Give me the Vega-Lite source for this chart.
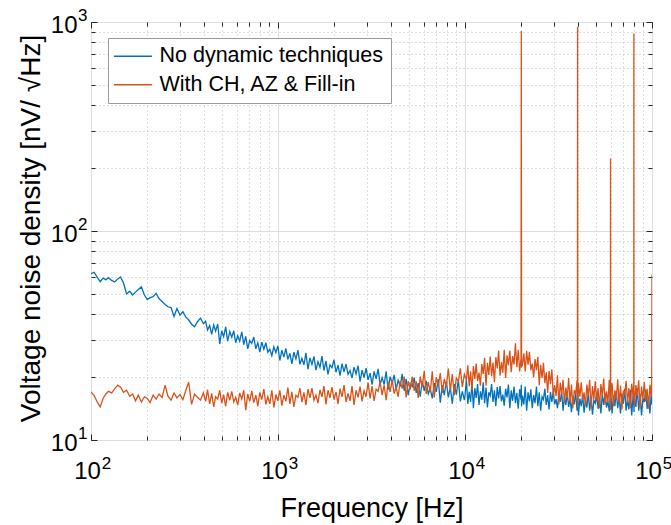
{
"$schema": "https://vega.github.io/schema/vega-lite/v6.json",
"width": 561, "height": 418,
"autosize": "none",
"padding": {"left": 91, "top": 22, "right": 19, "bottom": 85},
"background": "white",
"config": {"view": {"stroke": "#262626", "strokeWidth": 1}, "font": "Liberation Sans",
  "axis": {"labelFont": "Liberation Sans", "titleFont": "Liberation Sans", "titleFontWeight": "normal", "labelColor": "#000", "titleColor": "#000"}},
"data": {"values": [
{"f":100,"a":62.5,"b":17},{"f":104,"a":63.5,"b":16.3},{"f":108,"a":60,"b":15.2},{"f":112,"a":57.2,"b":14.4},{"f":116,"a":59.5,"b":15.8},{"f":120,"a":58.5,"b":16.6},{"f":124,"a":59.8,"b":17.1},{"f":129,"a":58,"b":16.8},{"f":134,"a":57,"b":17.6},{"f":139,"a":59,"b":18.3},{"f":144,"a":60.3,"b":17.9},{"f":149,"a":56.5,"b":16.9},{"f":155,"a":50,"b":17.3},{"f":161,"a":51.5,"b":16.2},{"f":167,"a":49.4,"b":16.6},{"f":173,"a":51,"b":15.4},{"f":179,"a":52.5,"b":16.4},{"f":186,"a":54,"b":15.2},{"f":193,"a":49.4,"b":16.1},{"f":200,"a":47,"b":15.8},{"f":207,"a":48,"b":15.1},{"f":215,"a":48.5,"b":16.4},{"f":223,"a":50.3,"b":15.7},{"f":231,"a":47.5,"b":16.6},{"f":240,"a":46,"b":16},{"f":249,"a":44.5,"b":18.3},{"f":258,"a":43.4,"b":16.2},{"f":268,"a":43,"b":15.5},{"f":278,"a":39,"b":16.8},{"f":288,"a":42.6,"b":15.9},{"f":299,"a":39.6,"b":16.5},{"f":310,"a":41.1,"b":15.6},{"f":321,"a":38.8,"b":17.2},{"f":333,"a":37.5,"b":18.9},{"f":345,"a":35.8,"b":14.8},{"f":358,"a":34.8,"b":16.6},{"f":371,"a":36.8,"b":16},{"f":385,"a":38.3,"b":15.5},{"f":399,"a":36,"b":16.8},
{"f":410,"a":37.0,"b":15.3},{"f":420,"a":33.6,"b":17.4},{"f":431,"a":35.3,"b":14.9},{"f":442,"a":32.0,"b":16.7},{"f":453,"a":35.5,"b":14.4},{"f":464,"a":33.2,"b":16.1},{"f":476,"a":35.9,"b":15.7},{"f":488,"a":28.8,"b":17.3},{"f":500,"a":33.3,"b":15.0},{"f":512,"a":31.2,"b":16.5},{"f":525,"a":34.8,"b":14.5},{"f":538,"a":29.7,"b":16.9},{"f":552,"a":33.0,"b":15.5},{"f":566,"a":31.0,"b":17.1},{"f":580,"a":33.3,"b":15.2},{"f":594,"a":29.2,"b":16.0},{"f":609,"a":31.5,"b":14.7},{"f":624,"a":29.7,"b":16.8},{"f":640,"a":32.9,"b":15.7},{"f":656,"a":28.6,"b":17.3},{"f":672,"a":31.3,"b":13.9},{"f":689,"a":27.3,"b":16.6},{"f":706,"a":29.9,"b":15.3},{"f":724,"a":29.0,"b":17.2},{"f":742,"a":31.1,"b":15.1},{"f":761,"a":27.3,"b":16.4},{"f":780,"a":29.2,"b":14.5},{"f":799,"a":26.3,"b":16.9},{"f":819,"a":29.4,"b":15.6},{"f":840,"a":27.2,"b":17.5},{"f":861,"a":29.2,"b":14.8},{"f":882,"a":26.3,"b":16.1},{"f":904,"a":27.2,"b":14.9},{"f":927,"a":25.3,"b":17.3},{"f":950,"a":27.9,"b":14.3},{"f":974,"a":26.2,"b":16.5},{"f":998,"a":28.2,"b":15.4},
{"f":1023,"a":24.0,"b":17.3},{"f":1049,"a":26.9,"b":14.6},{"f":1075,"a":24.9,"b":16.4},{"f":1102,"a":27.4,"b":15.3},{"f":1129,"a":24.3,"b":17.8},{"f":1158,"a":26.0,"b":14.9},{"f":1186,"a":23.1,"b":17.0},{"f":1216,"a":26.3,"b":14.4},{"f":1247,"a":24.4,"b":16.4},{"f":1278,"a":26.9,"b":16.0},{"f":1310,"a":23.0,"b":17.7},{"f":1342,"a":24.6,"b":15.2},{"f":1376,"a":22.9,"b":16.9},{"f":1410,"a":26.1,"b":14.7},{"f":1446,"a":21.8,"b":17.5},{"f":1482,"a":24.7,"b":15.9},{"f":1519,"a":23.0,"b":17.7},{"f":1557,"a":25.1,"b":15.5},{"f":1596,"a":21.6,"b":16.4},{"f":1636,"a":23.7,"b":15.0},{"f":1677,"a":22.3,"b":17.4},{"f":1718,"a":25.2,"b":16.1},{"f":1761,"a":21.5,"b":18.1},{"f":1805,"a":23.9,"b":14.8},{"f":1851,"a":20.6,"b":17.3},{"f":1897,"a":22.9,"b":15.9},{"f":1944,"a":22.2,"b":17.9},{"f":1993,"a":24.2,"b":15.6},
{"f":2043,"a":21.1,"b":17.0},{"f":2094,"a":22.8,"b":14.9},{"f":2146,"a":20.3,"b":17.6},{"f":2200,"a":23.2,"b":16.1},{"f":2255,"a":21.2,"b":18.3},{"f":2311,"a":23.1,"b":15.2},{"f":2369,"a":20.6,"b":16.7},{"f":2428,"a":21.5,"b":15.4},{"f":2489,"a":19.8,"b":18.1},{"f":2551,"a":22.3,"b":14.7},{"f":2615,"a":20.7,"b":17.3},{"f":2680,"a":22.7,"b":16.0},{"f":2747,"a":19.0,"b":18.0},{"f":2816,"a":21.6,"b":15.3},{"f":2886,"a":19.9,"b":17.2},{"f":2958,"a":22.1,"b":16.1},{"f":3032,"a":19.4,"b":18.8},{"f":3108,"a":20.9,"b":15.8},{"f":3186,"a":18.4,"b":18.1},{"f":3265,"a":21.3,"b":15.4},{"f":3347,"a":19.6,"b":17.5},{"f":3431,"a":21.9,"b":17.1},{"f":3516,"a":18.4,"b":19.0},{"f":3604,"a":19.9,"b":16.4},{"f":3694,"a":18.4,"b":18.3},{"f":3787,"a":21.3,"b":15.5},{"f":3881,"a":17.4,"b":19.0},{"f":3978,"a":20.1,"b":17.0},{"f":4078,"a":18.6,"b":19.4},{"f":4180,"a":20.5,"b":16.7},{"f":4284,"a":17.4,"b":17.9},{"f":4391,"a":19.3,"b":16.1},{"f":4501,"a":18.0,"b":19.2},{"f":4614,"a":20.7,"b":17.6},{"f":4729,"a":17.2,"b":20.1},{"f":4847,"a":19.6,"b":16.0},{"f":4968,"a":16.4,"b":19.1},{"f":5093,"a":18.6,"b":17.4},{"f":5220,"a":18.0,"b":20.1},{"f":5350,"a":19.9,"b":17.2},{"f":5484,"a":16.8,"b":19.1},{"f":5621,"a":18.7,"b":15.9},{"f":5762,"a":16.1,"b":20.1},{"f":5906,"a":19.2,"b":17.9},{"f":6054,"a":17.2,"b":21.4},{"f":6205,"a":19.2,"b":16.6},{"f":6360,"a":16.6,"b":18.9},{"f":6519,"a":17.6,"b":17.0},{"f":6682,"a":15.8,"b":21.3},{"f":6849,"a":18.7,"b":16.0},{"f":7021,"a":17.0,"b":20.0},{"f":7196,"a":19.5,"b":18.1},{"f":7376,"a":15.1,"b":20.9},{"f":7561,"a":18.3,"b":16.8},{"f":7750,"a":16.4,"b":19.6},{"f":7943,"a":19.1,"b":17.9},{"f":8142,"a":16.0,"b":22.0},{"f":8345,"a":17.8,"b":17.2},{"f":8554,"a":14.9,"b":20.7},{"f":8768,"a":18.5,"b":16.4},{"f":8987,"a":16.5,"b":19.8},{"f":9212,"a":19.4,"b":19.1},{"f":9442,"a":15.3,"b":22.0},{"f":9678,"a":17.1,"b":17.9},{"f":9920,"a":15.5,"b":20.6},
{"f":10000,"a":16.3,"b":20.2},{"f":10174,"a":19.4,"b":19.5},{"f":10351,"a":14.9,"b":22.8},{"f":10531,"a":17.0,"b":18.1},{"f":10714,"a":15.2,"b":21.3},{"f":10900,"a":19.0,"b":17.3},{"f":11090,"a":14.2,"b":22.6},{"f":11283,"a":17.7,"b":19.6},{"f":11479,"a":15.9,"b":23.2},{"f":11679,"a":18.5,"b":19.1},{"f":11882,"a":14.7,"b":21.0},{"f":12089,"a":17.1,"b":18.2},{"f":12299,"a":15.6,"b":23.1},{"f":12513,"a":18.9,"b":20.7},{"f":12731,"a":15.0,"b":24.7},{"f":12952,"a":17.8,"b":18.2},{"f":13178,"a":14.3,"b":23.4},{"f":13407,"a":16.9,"b":20.5},{"f":13640,"a":16.3,"b":25.1},{"f":13878,"a":18.5,"b":20.2},{"f":14119,"a":15.2,"b":23.5},{"f":14365,"a":17.3,"b":18.9},{"f":14615,"a":14.5,"b":24.9},{"f":14869,"a":17.9,"b":22.0},{"f":15128,"a":15.8,"b":26.8},{"f":15391,"a":18.1,"b":20.3},{"f":15659,"a":15.3,"b":23.6},{"f":15931,"a":16.5,"b":21.0},{"f":16208,"a":14.6,"b":27.0},{"f":16490,"a":17.6,"b":19.8},{"f":16777,"a":16.0,"b":25.4},{"f":17069,"a":18.4,"b":22.8},{"f":17366,"a":14.2,"b":26.8},{"f":17668,"a":17.3,"b":21.1},{"f":17976,"a":15.4,"b":25.2},{"f":18288,"a":18.0,"b":23.0},{"f":18607,"a":15.0,"b":29.0},{"f":18930,"a":16.8,"b":22.3},{"f":19260,"a":14.1,"b":27.0},{"f":19595,"a":17.5,"b":21.3},{"f":19930,"a":15.6,"b":24.5},{"f":20000,"a":18.4,"b":906},{"f":20070,"a":14.5,"b":22.5},
{"f":20283,"a":16.3,"b":22.8},{"f":20636,"a":14.8,"b":26.0},{"f":20995,"a":18.0,"b":21.3},{"f":21360,"a":13.8,"b":26.7},{"f":21732,"a":16.9,"b":22.9},{"f":22110,"a":15.3,"b":26.4},{"f":22495,"a":17.5,"b":21.6},{"f":22886,"a":14.2,"b":23.2},{"f":23284,"a":16.4,"b":19.9},{"f":23689,"a":15.0,"b":24.4},{"f":24101,"a":18.0,"b":21.6},{"f":24521,"a":14.5,"b":25.0},{"f":24947,"a":16.9,"b":18.3},{"f":25381,"a":13.8,"b":22.9},{"f":25823,"a":16.1,"b":19.8},{"f":26272,"a":15.6,"b":23.4},{"f":26729,"a":17.6,"b":18.7},{"f":27194,"a":14.7,"b":21.1},{"f":27667,"a":16.4,"b":16.8},{"f":28149,"a":14.0,"b":21.4},{"f":28639,"a":17.0,"b":18.5},{"f":29137,"a":15.2,"b":21.8},{"f":29644,"a":17.1,"b":16.3},{"f":30160,"a":14.8,"b":18.3},{"f":30685,"a":15.7,"b":16.2},{"f":31219,"a":14.2,"b":20.4},{"f":31762,"a":16.5,"b":14.8},{"f":32314,"a":15.2,"b":18.8},{"f":32877,"a":17.1,"b":16.6},{"f":33449,"a":13.8,"b":19.4},{"f":34031,"a":16.2,"b":15.0},{"f":34623,"a":14.7,"b":17.8},{"f":35225,"a":16.8,"b":15.9},{"f":35838,"a":14.4,"b":19.8},{"f":36462,"a":15.8,"b":15.1},{"f":37096,"a":13.6,"b":18.4},{"f":37741,"a":16.3,"b":14.2},{"f":38398,"a":14.8,"b":17.3},{"f":39066,"a":16.9,"b":16.6},{"f":39746,"a":13.8,"b":19.3},{"f":39930,"a":15.3,"b":15.2},{"f":40000,"a":13.9,"b":950},{"f":40070,"a":16.6,"b":14.3},
{"f":40438,"a":13.1,"b":18.7},{"f":41141,"a":15.8,"b":16.1},{"f":41857,"a":14.5,"b":18.9},{"f":42585,"a":16.4,"b":15.5},{"f":43326,"a":13.5,"b":16.9},{"f":44080,"a":15.5,"b":14.6},{"f":44847,"a":14.3,"b":18.4},{"f":45628,"a":16.9,"b":16.3},{"f":46422,"a":13.8,"b":19.4},{"f":47229,"a":16.1,"b":14.1},{"f":48051,"a":13.2,"b":18.1},{"f":48887,"a":15.5,"b":15.7},{"f":49738,"a":15.0,"b":19.1},{"f":50603,"a":16.9,"b":15.3},{"f":51484,"a":14.1,"b":17.7},{"f":52380,"a":15.9,"b":14.2},{"f":53291,"a":13.4,"b":18.5},{"f":54218,"a":16.6,"b":16.2},{"f":55162,"a":14.7,"b":19.7},{"f":56122,"a":16.8,"b":14.8},{"f":57098,"a":14.3,"b":17.1},{"f":58092,"a":15.4,"b":15.1},{"f":59102,"a":13.7,"b":19.4},{"f":59930,"a":16.5,"b":13.9},{"f":60000,"a":15.0,"b":222},{"f":60070,"a":17.2,"b":15.9},
{"f":61177,"a":13.4,"b":18.7},{"f":62241,"a":16.3,"b":14.5},{"f":63324,"a":14.5,"b":17.3},{"f":64426,"a":17.1,"b":15.6},{"f":65547,"a":14.2,"b":19.5},{"f":66688,"a":16.0,"b":14.9},{"f":67848,"a":13.4,"b":18.2},{"f":69029,"a":16.7,"b":14.0},{"f":70230,"a":14.9,"b":17.2},{"f":71452,"a":17.6,"b":16.4},{"f":72695,"a":13.8,"b":19.2},{"f":73960,"a":15.6,"b":15.1},{"f":75247,"a":14.0,"b":17.7},{"f":76556,"a":17.4,"b":14.2},{"f":77888,"a":13.1,"b":18.6},{"f":79243,"a":16.3,"b":16.0},{"f":79930,"a":14.7,"b":18.9},{"f":80000,"a":17.0,"b":880},{"f":80070,"a":13.6,"b":16.8},
{"f":80622,"a":15.9,"b":14.5},{"f":82025,"a":14.4,"b":18.3},{"f":83452,"a":17.7,"b":16.3},{"f":84904,"a":13.8,"b":19.3},{"f":86382,"a":16.6,"b":14.1},{"f":87885,"a":13.1,"b":18.0},{"f":89414,"a":15.8,"b":15.7},{"f":90970,"a":15.2,"b":19.0},{"f":92553,"a":17.4,"b":15.3},{"f":94163,"a":14.1,"b":17.6},{"f":95802,"a":16.2,"b":14.1},{"f":97469,"a":13.4,"b":18.4},{"f":99165,"a":17.0,"b":16.1},{"f":99700,"a":14.8,"b":19.6},{"f":100000,"a":17.2,"b":62}
]},
"layer": [
{
  "transform": [{"fold": ["a", "b"], "as": ["s", "v"]}],
  "mark": {"type": "line", "strokeWidth": 1.3, "clip": true},
  "encoding": {
    "x": {"field": "f", "type": "quantitative", "scale": {"type": "log", "domain": [100, 100000], "nice": false},
      "axis": {"orient": "bottom",
        "values": [100,200,300,400,500,600,700,800,900,1000,2000,3000,4000,5000,6000,7000,8000,9000,10000,20000,30000,40000,50000,60000,70000,80000,90000,100000],
        "grid": true,
        "gridColor": {"condition": {"test": "indexof([100,1000,10000,100000], datum.value) >= 0", "value": "#dedede"}, "value": "#bdbdbd"},
        "gridDash": {"condition": {"test": "indexof([100,1000,10000,100000], datum.value) >= 0", "value": []}, "value": [1, 3]},
        "ticks": false, "domain": false,
        "labelExpr": "indexof([100,1000,10000,100000], datum.value) >= 0 ? '10' : ''",
        "labelFontSize": 24, "labelPadding": 19, "labelOffset": -4,
        "labelFlush": false, "labelOverlap": false, "labelBound": false,
        "title": "Frequency [Hz]", "titleFontSize": 27, "titleY": 76, "titleBaseline": "alphabetic"}},
    "y": {"field": "v", "type": "quantitative", "scale": {"type": "log", "domain": [10, 1000], "nice": false},
      "axis": {"orient": "left",
        "values": [10,20,30,40,50,60,70,80,90,100,200,300,400,500,600,700,800,900,1000],
        "grid": true,
        "gridColor": {"condition": {"test": "indexof([10,100,1000], datum.value) >= 0", "value": "#dedede"}, "value": "#bdbdbd"},
        "gridDash": {"condition": {"test": "indexof([10,100,1000], datum.value) >= 0", "value": []}, "value": [1, 3]},
        "ticks": false, "domain": false,
        "labelExpr": "indexof([10,100,1000], datum.value) >= 0 ? '10' : ''",
        "labelFontSize": 24, "labelPadding": 14, "labelOffset": 3,
        "labelFlush": false, "labelOverlap": false, "labelBound": false,
        "title": "Voltage noise density [nV/ √Hz]", "titleFontSize": 28,
        "titleX": -60, "titleY": 206, "titleAngle": 270, "titleBaseline": "middle", "titleAlign": "center"}},
    "color": {"field": "s", "type": "nominal",
      "scale": {"domain": ["a", "b"], "range": ["#0072BD", "#D95319"]},
      "legend": {"orient": "none", "legendX": 17, "legendY": 16, "title": null,
        "labelExpr": "datum.value == 'a' ? 'No dynamic techniques' : 'With CH, AZ & Fill-in'",
        "symbolType": "M-1.3,0H2.7", "symbolSize": 361, "symbolStrokeWidth": 1.3, "symbolFillColor": "transparent",
        "labelFont": "Liberation Sans", "labelFontSize": 21.5, "labelColor": "#000", "labelLimit": 400,
        "labelOffset": 22.5, "padding": 7.5, "rowPadding": 5.5,
        "strokeColor": "#9a9a9a", "fillColor": "white"}}
  }
},
{
  "mark": {"type": "point", "opacity": 0},
  "encoding": {
    "x": {"field": "f", "type": "quantitative", "scale": {"type": "log", "domain": [100, 100000], "nice": false},
      "axis": {"orient": "bottom", "values": [100, 1000, 10000, 100000], "grid": false, "ticks": false, "domain": false,
        "labelExpr": "datum.value == 100 ? '2' : datum.value == 1000 ? '3' : datum.value == 10000 ? '4' : '5'",
        "labelFontSize": 17, "labelPadding": 15, "labelOffset": 15,
        "labelFlush": false, "labelOverlap": false, "labelBound": false, "title": null}},
    "y": {"field": "a", "type": "quantitative", "scale": {"type": "log", "domain": [10, 1000], "nice": false},
      "axis": {"orient": "left", "values": [10, 100, 1000], "grid": false, "ticks": false, "domain": false,
        "labelExpr": "datum.value == 10 ? '1' : datum.value == 100 ? '2' : '3'",
        "labelFontSize": 17, "labelPadding": 4, "labelOffset": -7,
        "labelFlush": false, "labelOverlap": false, "labelBound": false, "title": null}}
  }
},
{
  "mark": {"type": "point", "opacity": 0},
  "encoding": {
    "x": {"field": "f", "type": "quantitative", "scale": {"type": "log", "domain": [100, 100000], "nice": false},
      "axis": {"orient": "bottom",
        "values": [100,200,300,400,500,600,700,800,900,1000,2000,3000,4000,5000,6000,7000,8000,9000,10000,20000,30000,40000,50000,60000,70000,80000,90000,100000],
        "grid": false, "domain": false, "labels": false, "title": null, "ticks": true, "tickColor": "#262626",
        "tickSize": {"condition": {"test": "indexof([100,1000,10000,100000], datum.value) >= 0", "value": -6}, "value": -4}}},
    "y": {"field": "a", "type": "quantitative", "scale": {"type": "log", "domain": [10, 1000], "nice": false},
      "axis": {"orient": "left",
        "values": [10,20,30,40,50,60,70,80,90,100,200,300,400,500,600,700,800,900,1000],
        "grid": false, "domain": false, "labels": false, "title": null, "ticks": true, "tickColor": "#262626",
        "tickSize": {"condition": {"test": "indexof([10,100,1000], datum.value) >= 0", "value": -6}, "value": -4}}}
  }
},
{
  "mark": {"type": "point", "opacity": 0},
  "encoding": {
    "x": {"field": "f", "type": "quantitative", "scale": {"type": "log", "domain": [100, 100000], "nice": false},
      "axis": {"orient": "top",
        "values": [100,200,300,400,500,600,700,800,900,1000,2000,3000,4000,5000,6000,7000,8000,9000,10000,20000,30000,40000,50000,60000,70000,80000,90000,100000],
        "grid": false, "domain": false, "labels": false, "title": null, "ticks": true, "tickColor": "#262626",
        "tickSize": {"condition": {"test": "indexof([100,1000,10000,100000], datum.value) >= 0", "value": -6}, "value": -4}}},
    "y": {"field": "a", "type": "quantitative", "scale": {"type": "log", "domain": [10, 1000], "nice": false},
      "axis": {"orient": "right",
        "values": [10,20,30,40,50,60,70,80,90,100,200,300,400,500,600,700,800,900,1000],
        "grid": false, "domain": false, "labels": false, "title": null, "ticks": true, "tickColor": "#262626",
        "tickSize": {"condition": {"test": "indexof([10,100,1000], datum.value) >= 0", "value": -6}, "value": -4}}}
  }
}
],
"resolve": {"axis": {"x": "independent", "y": "independent"}}
}
